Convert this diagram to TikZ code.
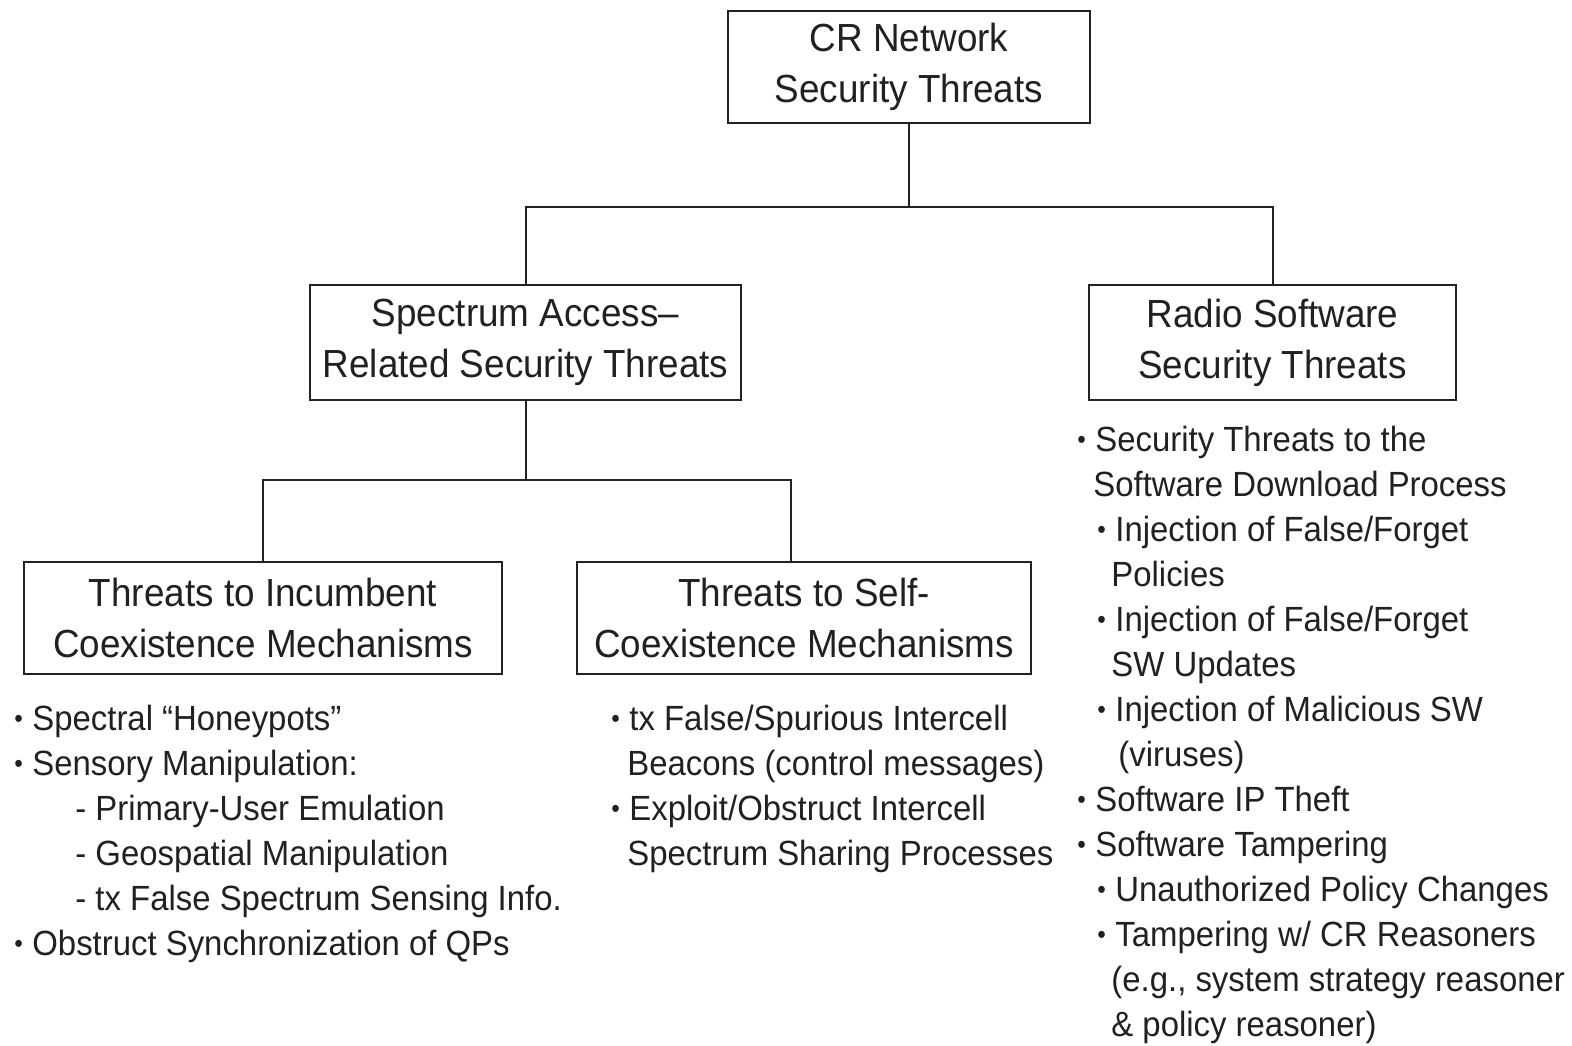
\documentclass[tikz,border=0pt]{standalone}
\usepackage{fontspec}
\setmainfont{Liberation Sans}[FakeStretch=0.94]
\newcommand{\boxfont}{\fontsize{19.6pt}{25.5pt}\selectfont}
\newcommand{\listfont}{\fontsize{17.5pt}{22.5pt}\selectfont}
% small raised bullet followed by a fixed gap
\newcommand{\bul}{\makebox[9pt][l]{\raisebox{1.3pt}{\fontsize{13pt}{13pt}\selectfont\textbullet}}}
\definecolor{ink}{gray}{0.13}

\tikzset{
  threat/.style={draw=ink, line width=1pt, rectangle, align=center,
    inner sep=0pt, font=\boxfont, text=ink},
  entry/.style={anchor=base west, inner sep=0pt, font=\listfont, text=ink},
  link/.style={draw=ink, line width=1pt},
}

\begin{document}
\begin{tikzpicture}[x=0.5pt, y=-0.5pt]
\fill[white] (0,0) rectangle (1572,1045);
\useasboundingbox (0,0) rectangle (1572,1045);

% tree of threat categories
\node[threat, minimum width=181pt, minimum height=56pt] (root) at (909,67)
  {CR Network\\Security Threats};
\node[threat, minimum width=215.5pt, minimum height=57.5pt] (spec) at (525.5,342.5)
  {Spectrum Access–\\Related Security Threats};
\node[threat, minimum width=183.5pt, minimum height=57.5pt] (radio) at (1272.5,342.5)
  {Radio Software\\Security Threats};
\node[threat, minimum width=239pt, minimum height=56pt] (inc) at (263,618)
  {Threats to Incumbent\\Coexistence Mechanisms};
\node[threat, minimum width=227pt, minimum height=56pt] (self) at (804,618)
  {Threats to Self-\\Coexistence Mechanisms};

% connectors
\coordinate (j1) at (909,207);
\coordinate (j2) at (525.5,480);
\draw[link] (root.south) -- (j1);
\draw[link] (spec.north) |- (j1) -| (radio.north);
\draw[link] (spec.south) -- (j2);
\draw[link] (inc.north) |- (j2) -| ([xshift=-6.5pt]self.north);

% incumbent coexistence threats
\node[entry] (l1) at (14,730) {\bul Spectral “Honeypots”};
\node[entry] (l2) at (14,775) {\bul Sensory Manipulation:};
\node[entry] (l3) at (75,820) {- Primary-User Emulation};
\node[entry] (l4) at (75,865) {- Geospatial Manipulation};
\node[entry] (l5) at (75,910) {- tx False Spectrum Sensing Info.};
\node[entry] (l6) at (14,955) {\bul Obstruct Synchronization of QPs};

% self-coexistence threats
\node[entry] (m1) at (611,730) {\bul tx False/Spurious Intercell};
\node[entry] (m2) at (627,775) {Beacons (control messages)};
\node[entry] (m3) at (611,820) {\bul Exploit/Obstruct Intercell};
\node[entry] (m4) at (627,865) {Spectrum Sharing Processes};

% radio software threats
\node[entry] (r1)  at (1077,451)  {\bul Security Threats to the};
\node[entry] (r2)  at (1093,496)  {Software Download Process};
\node[entry] (r3)  at (1097,541)  {\bul Injection of False/Forget};
\node[entry] (r4)  at (1111,586)  {Policies};
\node[entry] (r5)  at (1097,631)  {\bul Injection of False/Forget};
\node[entry] (r6)  at (1111,676)  {SW Updates};
\node[entry] (r7)  at (1097,721)  {\bul Injection of Malicious SW};
\node[entry] (r8)  at (1118,766)  {(viruses)};
\node[entry] (r9)  at (1077,811)  {\bul Software IP Theft};
\node[entry] (r10) at (1077,856)  {\bul Software Tampering};
\node[entry] (r11) at (1097,901)  {\bul Unauthorized Policy Changes};
\node[entry] (r12) at (1097,946)  {\bul Tampering w/ CR Reasoners};
\node[entry] (r13) at (1111,991)  {(e.g., system strategy reasoner};
\node[entry] (r14) at (1111,1036) {\& policy reasoner)};
\end{tikzpicture}
\end{document}
